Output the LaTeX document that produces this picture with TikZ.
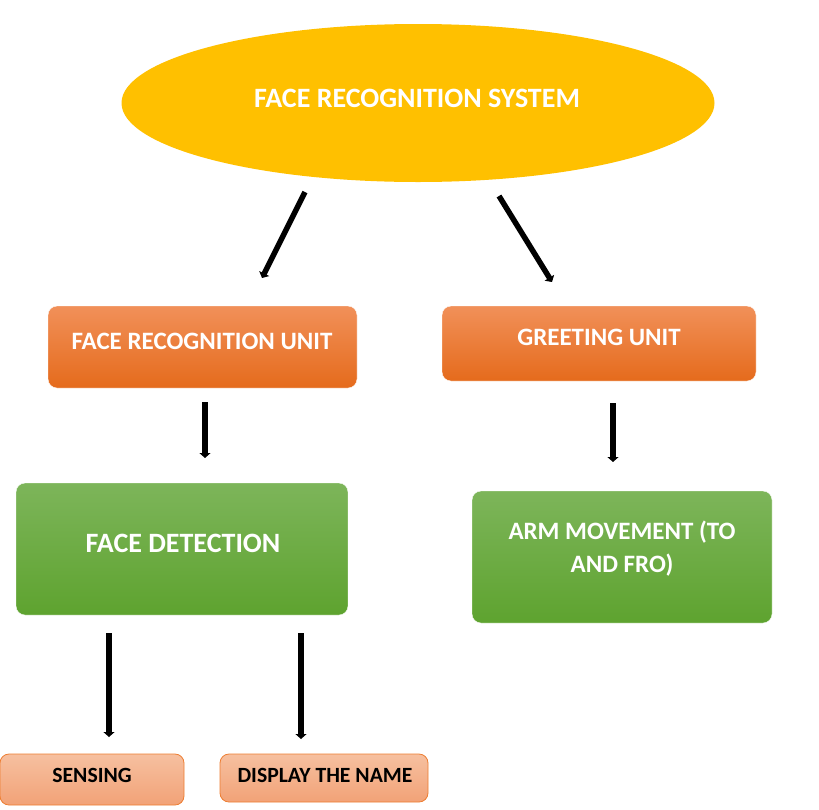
\documentclass[tikz,border=0pt]{standalone}
\usepackage{fontspec}
\setmainfont{Carlito}
\usetikzlibrary{arrows.meta,shapes.geometric}
\definecolor{sysY}{HTML}{FFC000}
\definecolor{orT}{HTML}{F19059}
\definecolor{orB}{HTML}{E56B1C}
\definecolor{grT}{HTML}{7DB55A}
\definecolor{grB}{HTML}{5EA32F}
\definecolor{saT}{HTML}{F6C0A0}
\definecolor{saB}{HTML}{F2A277}
\definecolor{saD}{HTML}{ED7D31}
\tikzset{
  box/.style={rectangle, rounded corners=9pt, inner sep=0pt},
  orbox/.style={box, top color=orT, bottom color=orB, draw=white},
  grbox/.style={box, top color=grT, bottom color=grB, draw=white},
  sabox/.style={box, top color=saT, bottom color=saB, draw=saD, line width=0.8pt},
  wtxt/.style={text=white, font=\bfseries, inner sep=0pt, align=center},
  btxt/.style={text=black, font=\bfseries, inner sep=0pt, align=center},
  arr/.style={line width=5.5pt, -{Triangle[length=5pt,width=11pt]}}
}
\begin{document}
\begin{tikzpicture}[x=1pt,y=-1pt]
\useasboundingbox (0,0) rectangle (819,809);
% ellipse
\node[ellipse, fill=sysY, minimum width=593pt, minimum height=158pt, inner sep=0pt] (sys) at (418,103) {};
\node[wtxt, font=\bfseries\fontsize{28}{32}\selectfont] (systxt) at (417,98) {FACE RECOGNITION SYSTEM};
% level 2
\node[orbox, minimum width=309pt, minimum height=82pt] (fru) at (202.5,347) {};
\node[wtxt, font=\bfseries\fontsize{25}{30}\selectfont] (frutxt) at (202,341) {FACE RECOGNITION UNIT};
\node[orbox, minimum width=314pt, minimum height=75pt] (gu) at (599,343.5) {};
\node[wtxt, font=\bfseries\fontsize{25}{30}\selectfont] (gutxt) at (599,337) {GREETING UNIT};
% level 3
\node[grbox, minimum width=332pt, minimum height=132pt] (fd) at (182,549) {};
\node[wtxt, font=\bfseries\fontsize{28}{32}\selectfont] (fdtxt) at (183,543) {FACE DETECTION};
\node[grbox, minimum width=300pt, minimum height=132pt] (arm) at (622,557) {};
\node[wtxt, font=\bfseries\fontsize{25}{33}\selectfont] (armtxt) at (622,549) {ARM MOVEMENT (TO\\AND FRO)};
% level 4
\node[sabox, minimum width=184pt, minimum height=51pt] (sen) at (92,779.5) {};
\node[btxt, font=\bfseries\fontsize{21.7}{25}\selectfont] (sentxt) at (92,775) {SENSING};
\node[sabox, minimum width=208pt, minimum height=48pt] (dis) at (324,778) {};
\node[btxt, font=\bfseries\fontsize{21.7}{25}\selectfont] (distxt) at (325,775) {DISPLAY THE NAME};
% arrows
\coordinate (a1s) at (305,192); \coordinate (a1e) at (262,278);
\coordinate (a2s) at (499,196); \coordinate (a2e) at (552,282);
\coordinate (a3s) at (205,402); \coordinate (a3e) at (205,458);
\coordinate (a4s) at (613,403); \coordinate (a4e) at (613,462);
\coordinate (a5s) at (109,633); \coordinate (a5e) at (109,737);
\coordinate (a6s) at (301,633); \coordinate (a6e) at (301,739);
\draw[arr] (a1s) -- (a1e);
\draw[arr] (a2s) -- (a2e);
\draw[arr] (a3s) -- (a3e);
\draw[arr] (a4s) -- (a4e);
\draw[arr] (a5s) -- (a5e);
\draw[arr] (a6s) -- (a6e);
\end{tikzpicture}
\end{document}
